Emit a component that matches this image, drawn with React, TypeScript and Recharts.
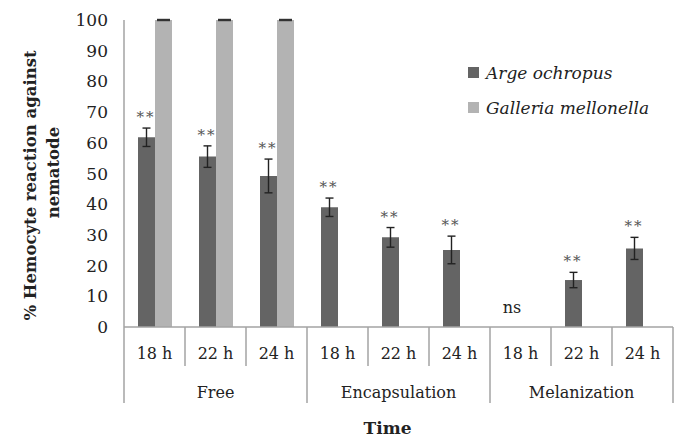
import React from "react";
import { BarChart, Bar, XAxis, YAxis, ErrorBar, ReferenceDot, Legend } from "recharts";

const timePoints = ["18 h", "22 h", "24 h", "18 h", "22 h", "24 h", "18 h", "22 h", "24 h"];
const reactionGroups = ["Free", "Free", "Free", "Encapsulation", "Encapsulation", "Encapsulation", "Melanization", "Melanization", "Melanization"];
const argeMeans = [61.8, 55.5, 49.2, 39, 29.2, 25.1, 0, 15.3, 25.6];
const argeSE = [3, 3.5, 5.5, 3, 3.2, 4.5, null, 2.5, 3.6];
const galleriaMeans = [100, 100, 100, 0, 0, 0, 0, 0, 0];
const galleriaSE = [0.15, 0.15, 0.15, null, null, null, null, null, null];
const significance = ["**", "**", "**", "**", "**", "**", "ns", "**", "**"];
const yTicks = [0, 10, 20, 30, 40, 50, 60, 70, 80, 90, 100];

const ARGE_COLOR = "#646464";
const GALLERIA_COLOR = "#b3b3b3";
const AXIS_COLOR = "#a3a3a3";
const TEXT_COLOR = "#222";
const FONT = "'DejaVu Serif', 'Liberation Serif', serif";

const W = 675;
const H = 438;
const MARGIN = { top: 20, right: 2, left: 0, bottom: 0 };
const Y_AXIS_W = 124;
const TIME_AXIS_H = 39;
const GROUP_AXIS_H = 72;
const BAR_SIZE = 17;
const BAND = (W - Y_AXIS_W - MARGIN.right) / timePoints.length;

// unique category key per bar slot (times repeat across groups)
const slotKeys = timePoints.map((t, i) => `${reactionGroups[i]} ${t}`);

const data = slotKeys.map((k, i) => ({
  slot: k,
  time: timePoints[i],
  group: reactionGroups[i],
  arge: argeMeans[i],
  argeErr: argeSE[i],
  galleria: galleriaMeans[i],
  galleriaErr: galleriaSE[i],
}));

function TimeTick(props: any) {
  const { x, y, payload } = props;
  const i = payload.index;
  return (
    <g>
      <text x={x} y={y + 32} textAnchor="middle" fontFamily={FONT} fontSize={16} fill={TEXT_COLOR}>
        {timePoints[i]}
      </text>
      {i % 3 !== 0 && (
        <line x1={x - BAND / 2} x2={x - BAND / 2} y1={y} y2={y + TIME_AXIS_H} stroke={AXIS_COLOR} strokeWidth={1.5} />
      )}
    </g>
  );
}

function GroupTick(props: any) {
  const { x, y, payload } = props;
  const i = payload.index;
  if (i % 3 !== 1) return <g />;
  return (
    <g>
      <text x={x} y={y + 32} textAnchor="middle" fontFamily={FONT} fontSize={16} fill={TEXT_COLOR}>
        {payload.value}
      </text>
      <line x1={x - 1.5 * BAND} x2={x - 1.5 * BAND} y1={y - TIME_AXIS_H} y2={y + 37} stroke={AXIS_COLOR} strokeWidth={1.5} />
      {i === timePoints.length - 2 && (
        <line x1={x + 1.5 * BAND} x2={x + 1.5 * BAND} y1={y - TIME_AXIS_H} y2={y + 37} stroke={AXIS_COLOR} strokeWidth={1.5} />
      )}
    </g>
  );
}

const makeSigLabel = (text: string) => (props: any) => {
  const vb = props.viewBox || {};
  const cx = vb.x + (vb.width || 0) / 2 - BAR_SIZE / 2;
  const cy = vb.y + (vb.height || 0) / 2;
  const isNs = text === "ns";
  return (
    <text
      x={cx}
      y={isNs ? cy - 14 : cy - 6}
      textAnchor="middle"
      fontFamily={FONT}
      fontSize={isNs ? 16 : 15}
      letterSpacing={isNs ? 0 : 2}
      fill={isNs ? TEXT_COLOR : "#555"}
    >
      {text}
    </text>
  );
};

const renderYLabel = (props: any) => {
  const vb = props.viewBox || {};
  const cy = (vb.y ?? MARGIN.top) + (vb.height ?? 307) / 2;
  return (
    <g fontFamily={FONT} fontWeight="bold" fontSize={16.5} fill={TEXT_COLOR}>
      <text x={36} y={cy + 12} textAnchor="middle" transform={`rotate(-90, 36, ${cy + 12})`}>
        % Hemocyte reaction against
      </text>
      <text x={59} y={cy - 1} textAnchor="middle" transform={`rotate(-90, 59, ${cy - 1})`}>
        nematode
      </text>
    </g>
  );
};

const renderTimeLabel = (props: any) => {
  const vb = props.viewBox || {};
  const cx = (vb.x ?? Y_AXIS_W) + (vb.width ?? 549) / 2 - 11;
  const y = (vb.y ?? 366) + 68;
  return (
    <text x={cx} y={y} textAnchor="middle" fontFamily={FONT} fontWeight="bold" fontSize={17} fill={TEXT_COLOR}>
      Time
    </text>
  );
};

const legendItems = [
  { label: "Arge ochropus", color: ARGE_COLOR },
  { label: "Galleria mellonella", color: GALLERIA_COLOR },
];

const renderLegend = () => (
  <div style={{ fontFamily: FONT, fontStyle: "italic", fontSize: 17, color: TEXT_COLOR }}>
    {legendItems.map((it) => (
      <div key={it.label} style={{ display: "flex", alignItems: "center", height: 35 }}>
        <span style={{ display: "inline-block", width: 11, height: 11, background: it.color, marginRight: 7 }} />
        <span>{it.label}</span>
      </div>
    ))}
  </div>
);

export default function App() {
  return (
    <div style={{ position: "absolute", left: 0, top: 0, width: W, height: H, background: "#fff" }}>
      <BarChart width={W} height={H} data={data} margin={MARGIN} barGap={0} barSize={BAR_SIZE}>
        <XAxis
          dataKey="slot"
          height={TIME_AXIS_H}
          interval={0}
          tickSize={0}
          tickMargin={0}
          tickLine={false}
          axisLine={{ stroke: AXIS_COLOR, strokeWidth: 1.5 }}
          tick={(p: any) => <TimeTick {...p} />}
        />
        <XAxis
          xAxisId="grp"
          dataKey="group"
          height={GROUP_AXIS_H}
          interval={0}
          tickSize={0}
          tickMargin={0}
          tickLine={false}
          axisLine={false}
          tick={(p: any) => <GroupTick {...p} />}
          label={renderTimeLabel}
        />
        <YAxis
          width={Y_AXIS_W}
          domain={[0, 100]}
          allowDataOverflow
          ticks={yTicks}
          interval={0}
          tickSize={0}
          tickMargin={16}
          tickLine={false}
          axisLine={{ stroke: AXIS_COLOR, strokeWidth: 1.5 }}
          tick={{ fontFamily: FONT, fontSize: 17, fill: TEXT_COLOR }}
          label={renderYLabel}
        />
        <Legend
          layout="vertical"
          align="center"
          verticalAlign="middle"
          content={renderLegend}
          wrapperStyle={{ position: "absolute", left: 468, top: 55, width: 210 }}
        />
        <Bar dataKey="arge" fill={ARGE_COLOR} isAnimationActive={false}>
          <ErrorBar dataKey="argeErr" width={4} stroke="#222" strokeWidth={1.4} />
        </Bar>
        <Bar dataKey="galleria" fill={GALLERIA_COLOR} isAnimationActive={false}>
          <ErrorBar dataKey="galleriaErr" width={6.5} stroke="#333" strokeWidth={1.5} />
        </Bar>
        {slotKeys.map((k, i) => (
          <ReferenceDot
            key={k}
            x={k}
            y={argeMeans[i] + (argeSE[i] ?? 0)}
            r={1}
            fill="none"
            stroke="none"
            label={makeSigLabel(significance[i])}
          />
        ))}
      </BarChart>
    </div>
  );
}
